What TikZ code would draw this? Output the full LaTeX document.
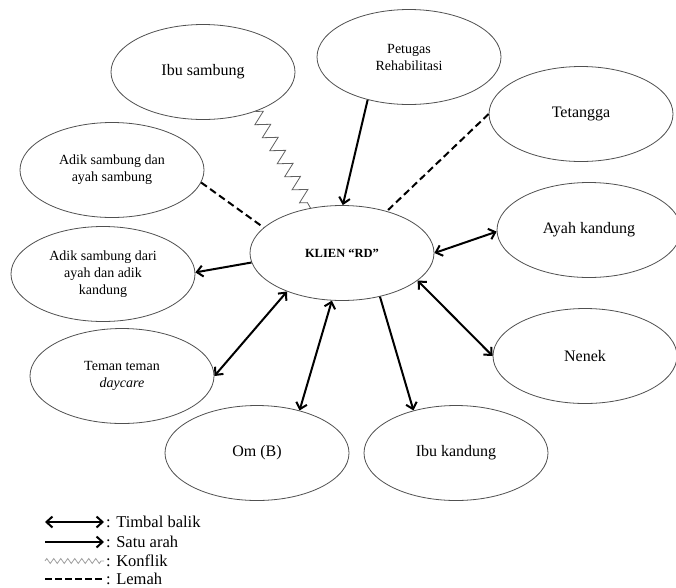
\documentclass[tikz,border=0pt]{standalone}
\usepackage{fontspec}
\setmainfont{Liberation Serif}
\usetikzlibrary{arrows.meta, positioning, shapes.geometric, decorations.pathmorphing}
\definecolor{ecogray}{HTML}{505050}
\definecolor{zigzaggray}{HTML}{606060}

\begin{document}
\begin{tikzpicture}[x=1pt, y=-1pt,
    member/.style={ellipse, draw=ecogray, line width=0.8pt, minimum width=184pt, minimum height=95pt, inner sep=0pt, align=center, font=\fontsize{16}{19}\selectfont},
    membersmall/.style={member, font=\fontsize{14}{17}\selectfont},
    twoway/.style={{Straight Barb[length=6pt,width=11pt]}-{Straight Barb[length=6pt,width=11pt]}, line width=2pt},
    oneway/.style={-{Straight Barb[length=6pt,width=11pt]}, line width=2pt},
    conflict/.style={zigzaggray, line width=0.8pt, decorate, decoration={zigzag, segment length=15pt, amplitude=7pt}},
    weak/.style={line width=2pt, dash pattern=on 7pt off 4pt},
    legendtext/.style={anchor=west, inner sep=2pt, font=\fontsize{16.5}{19}\selectfont}]
  \useasboundingbox (0,0) rectangle (676,587);

  % ecomap
  \node[member, font=\fontsize{12.5}{15}\bfseries] (klien) at (342,253) {KLIEN “RD”};
  \node[member] (ibusambung) at (203,72) {Ibu sambung};
  \node[membersmall] (petugas) at (409,57) {Petugas\\Rehabilitasi};
  \node[member] (tetangga) at (581,114) {Tetangga};
  \node[membersmall] (adikayah) at (112,170) {Adik sambung dan\\ayah sambung};
  \node[membersmall] (adikkandung) at (103,274) {Adik sambung dari\\ayah dan adik\\kandung};
  \node[member] (ayah) at (589,230) {Ayah kandung};
  \node[membersmall] (teman) at (122,376) {Teman teman\\\textit{daycare}};
  \node[member] (nenek) at (585,356) {Nenek};
  \node[member] (om) at (257,453) {Om (B)};
  \node[member] (ibukandung) at (456,453) {Ibu kandung};

  \draw[conflict] (ibusambung.323) -- (klien.125);
  \draw[oneway] (petugas.226) -- (klien.89);
  \draw[weak] (tetangga.180) -- (klien.43);
  \draw[weak] (adikayah.352) -- (klien.162);
  \draw[oneway] (klien.186) -- (adikkandung.1);
  \draw[twoway] (klien.0) -- (ayah.181);
  \draw[twoway] (klien.340) -- (nenek.180);
  \draw[oneway] (klien.311) -- (ibukandung.135);
  \draw[twoway] (klien.258) -- (om.45);
  \draw[twoway] (klien.215) -- (teman.0);

  % legend
  \node[legendtext] (ltimbal) at (104,522) {: Timbal balik};
  \node[legendtext] (lsatu) at (104,542) {: Satu arah};
  \node[legendtext] (lkonflik) at (104,561) {: Konflik};
  \node[legendtext] (llemah) at (104,579) {: Lemah};
  \coordinate (stimbal) at (45,522);
  \coordinate (ssatu) at (45,542);
  \coordinate (skonflik) at (45,561);
  \coordinate (slemah) at (45,579);
  \draw[twoway] (stimbal) -- (ltimbal.west);
  \draw[oneway] (ssatu) -- (lsatu.west);
  \draw[conflict, zigzaggray!60, decoration={zigzag, segment length=7pt, amplitude=2.5pt}] (skonflik) -- (lkonflik.west);
  \draw[weak, dash pattern=on 7pt off 3pt] (slemah) -- (llemah.west);
\end{tikzpicture}
\end{document}
